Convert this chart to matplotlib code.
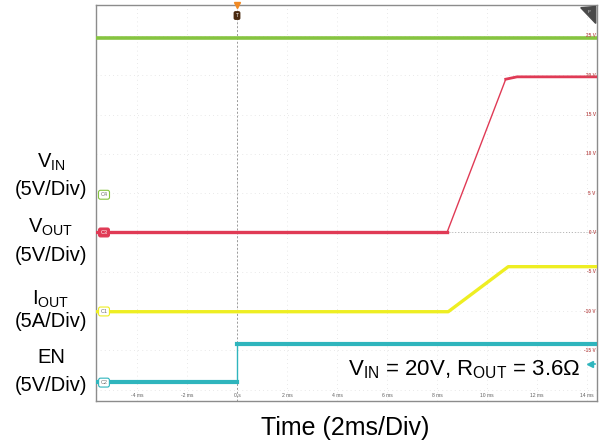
import numpy as np
import matplotlib.pyplot as plt

plt.rcParams['font.family'] = ['Liberation Sans', 'DejaVu Sans']
plt.rcParams['mathtext.fontset'] = 'custom'
plt.rcParams['mathtext.rm'] = 'Liberation Sans'
plt.rcParams['mathtext.it'] = 'Liberation Sans:italic'

# time in ms, levels in "volts" of the VOUT channel scale (5V/div)
t_vin = [-5.64, 14.4]
vin = [24.8, 24.8]

t_vout = [-5.64, 8.4, 10.75, 11.2, 14.4]
vout = [0.0, 0.0, 19.5, 19.8, 19.8]

t_iout = [-5.64, 8.45, 10.85, 14.4]
iout = [-10.08, -10.08, -4.35, -4.35]

t_en = [-5.64, 0.0, 0.0, 14.4]
en = [-19.0, -19.0, -14.2, -14.2]

time_ticks = [-4, -2, 0, 2, 4, 6, 8, 10, 12, 14]
time_labels = ['-4 ms', '-2 ms', '0 s', '2 ms', '4 ms', '6 ms', '8 ms', '10 ms', '12 ms', '14 ms']
volt_ticks = [25, 20, 15, 10, 5, 0, -5, -10, -15]
volt_labels = ['25 V', '20 V', '15 V', '10 V', '5 V', '0 V', '-5 V', '-10 V', '-15 V']

# channel ground tags on the left edge
tag_names = ['C4', 'C3', 'C1', 'C2']
tag_levels = [4.8, 0.0, -10.05, -19.1]

c_green = '#86c440'
c_red = '#e03a55'
c_yellow = '#eeee22'
c_cyan = '#2fb5bd'

fig = plt.figure(figsize=(5.99, 4.47), dpi=100)
ax = fig.add_axes([96 / 599, 46 / 447, 501 / 599, 396 / 447])
xmin, xmax = -5.64, 14.4
ymin, ymax = -21.44, 28.94
ax.set_xlim(xmin, xmax)
ax.set_ylim(ymin, ymax)
ax.set_xticks([])
ax.set_yticks([])
for s in ax.spines.values():
    s.set_color('#8c8c8c')
    s.set_linewidth(1.0)

# faint dotted graticule
for t in time_ticks:
    ax.axvline(t, color='#e2e2e2', lw=0.6, ls=(0, (1, 4)), zorder=0)
for v in volt_ticks + [-20]:
    ax.axhline(v, color='#e2e2e2', lw=0.6, ls=(0, (1, 4)), zorder=0)

# trigger position and VOUT reference level
ax.axvline(0, color='#9a9a9a', lw=0.7, ls=(0, (2, 2)), zorder=1)
ax.axhline(0, color='#b0b0b0', lw=0.7, ls=(0, (1, 2)), zorder=1)

ax.plot(t_vin, vin, color=c_green, lw=2.6, zorder=3)
ax.plot(t_vout, vout, color=c_red, lw=1.0, zorder=3)
ax.plot(t_vout[:2], vout[:2], color=c_red, lw=2.4, zorder=3)
ax.plot(t_vout[2:], vout[2:], color=c_red, lw=2.0, zorder=3)
ax.plot(t_iout, iout, color=c_yellow, lw=2.4, zorder=3)
ax.plot(t_en, en, color=c_cyan, lw=1.0, zorder=3)
ax.plot(t_en[:2], en[:2], color=c_cyan, lw=3.0, zorder=3)
ax.plot(t_en[2:], en[2:], color=c_cyan, lw=3.0, zorder=3)

# scope tick labels drawn inside the screen
for t, lab in zip(time_ticks, time_labels):
    ax.text(t, -20.7, lab, fontsize=3.6, color='#606060', ha='center', va='center')
for v, lab in zip(volt_ticks, volt_labels):
    ax.text(14.35, v, lab, fontsize=3.4, color='#c05a5a', ha='right', va='center',
            fontweight='bold')

# channel tags
for name, lvl, col in zip(tag_names, tag_levels, [c_green, c_red, c_yellow, c_cyan]):
    if name == 'C3':
        ax.text(-5.32, lvl, name, fontsize=4, color='white', ha='center', va='center',
                bbox=dict(boxstyle='round,pad=0.35', fc=col, ec=col, lw=0.8), zorder=5)
    else:
        ax.text(-5.32, lvl, name, fontsize=4, color='#707070', ha='center', va='center',
                bbox=dict(boxstyle='round,pad=0.35', fc='white', ec=col, lw=0.8), zorder=5)

# trigger marker at top
ax.plot([0], [ymax], marker='v', ms=5, color='#f08a24', clip_on=False, zorder=6)
ax.text(0, 27.6, 'T', fontsize=3.5, color='white', ha='center', va='center',
        bbox=dict(boxstyle='round,pad=0.25', fc='#4a2a10', ec='#4a2a10'), zorder=6)

# corner badge and trigger level arrow
ax.fill([13.75, 14.35, 14.35], [28.6, 28.75, 26.6], color='#4a4a4a', zorder=6)
ax.text(14.1, 28.0, 'P', fontsize=3, color='#dddddd', ha='center', va='center', zorder=7)
ax.plot([14.12], [-16.7], marker='<', ms=4, color=c_cyan, zorder=6)
ax.plot([14.12, 14.32], [-16.7, -16.7], color=c_cyan, lw=1.2, zorder=6)

ax.text(13.72, -18.15, r'V$_{\mathrm{IN}}$ = 20V, R$_{\mathrm{OUT}}$ = 3.6$\Omega$',
        fontsize=16, ha='right', va='baseline', zorder=8)

# channel labels on the left
labels = [(r'V$_{\mathrm{IN}}$', 168), ('(5V/Div)', 195),
          (r'V$_{\mathrm{OUT}}$', 233), ('(5V/Div)', 261),
          (r'I$_{\mathrm{OUT}}$', 305), ('(5A/Div)', 327),
          ('EN', 363), ('(5V/Div)', 391)]
for txt, py in labels:
    fig.text(51 / 599, 1 - py / 447, txt, fontsize=14.5, ha='center', va='baseline')

fig.text(345 / 599, 1 - 435 / 447, 'Time (2ms/Div)', fontsize=18, ha='center', va='baseline')

fig.savefig('out.png', dpi=100)
